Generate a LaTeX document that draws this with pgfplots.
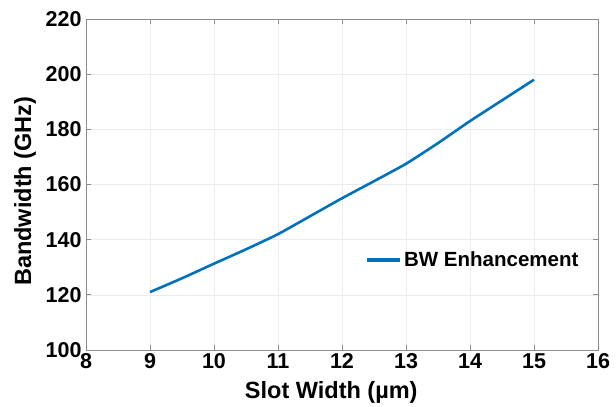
\documentclass[border=0pt]{standalone}
\usepackage{pgfplots}
\pgfplotsset{compat=1.18}
\usepackage{fontspec}
\setmainfont{Liberation Sans}
\definecolor{mblue}{RGB}{0,114,189}
\begin{document}
\begin{tikzpicture}
\useasboundingbox (0,0) rectangle (616pt,407pt);
\begin{axis}[
  at={(86pt,57pt)}, anchor=south west,
  scale only axis,
  width=512pt, height=331pt,
  xmin=8, xmax=16, ymin=100, ymax=220,
  xtick={8,...,16}, ytick={100,120,...,220},
  /pgf/number format/assume math mode=true,
  tick label style={font=\fontsize{21.5}{24}\selectfont\bfseries},
  label style={font=\fontsize{23.5}{26}\selectfont\bfseries},
  xlabel={Slot Width (µm)},
  ylabel={Bandwidth (GHz)},
  xlabel style={at={(axis description cs:0.479,-0.127)}, anchor=center},
  ylabel style={at={(axis description cs:-0.119,0.48)}, anchor=center},
  yticklabel style={xshift=-1pt},
  axis line style={draw=black!45, line width=0.8pt},
  tick style={draw=black!45, line width=0.8pt},
  tick align=inside,
  major tick length=5pt,
  grid=major,
  major grid style={draw=black!8, line width=0.6pt},
  legend style={draw=none, fill=none, at={(0.967,0.272)}, anchor=east,
    inner sep=0pt, nodes={inner sep=2.5pt},
    font=\fontsize{20.5}{24}\selectfont\bfseries},
  legend cell align=left,
  legend image code/.code={\draw[#1, line width=3.5pt] (0pt,0pt) -- (33pt,0pt);},
]
\addplot[mblue, line width=2.6pt, smooth, tension=0.3] coordinates {
(9,121) (9.5,126) (10,131.3) (10.5,136.5) (11,142) (11.5,148.5) (12,155)
(12.5,161.2) (13,167.5) (13.5,175) (14,183) (14.5,190.5) (15,198)
};
\addlegendentry{BW Enhancement}
\end{axis}
\end{tikzpicture}
\end{document}
